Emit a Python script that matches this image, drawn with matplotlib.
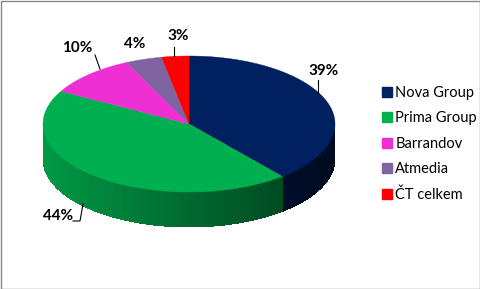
import numpy as np
import matplotlib.pyplot as plt
from matplotlib.patches import Polygon, Rectangle
from matplotlib.lines import Line2D

# data
groups = ['Nova Group', 'Prima Group', 'Barrandov', 'Atmedia', 'ČT celkem']
shares = [39, 44, 10, 4, 3]
labels = ['39%', '44%', '10%', '4%', '3%']
colors = ['#002060', '#00B050', '#EE2FD2', '#8064A2', '#FF0000']

# pie geometry in pixel space
cx, cy, rx, ry, depth = 189, 124, 146, 68, 35

# label centres (layout)
label_pos = [(324, 71), (58, 216), (77, 48), (135, 44), (178, 36)]

plt.rcParams['font.family'] = ['Lato', 'DejaVu Sans']

fig = plt.figure(figsize=(4.81, 2.89), dpi=100)
ax = fig.add_axes([0, 0, 1, 1])
ax.set_xlim(0, 481)
ax.set_ylim(289, 0)
ax.axis('off')

def pt(theta, dy=0.0):
    return cx + rx * np.cos(theta), cy - ry * np.sin(theta) + dy

fracs = np.array(shares, dtype=float) / sum(shares)
ends = np.pi / 2 - 2 * np.pi * np.cumsum(fracs)
starts = np.concatenate([[np.pi / 2], ends[:-1]])

def shade(c, theta):
    r, g, b = plt.matplotlib.colors.to_rgb(c)
    f = 0.6 + 0.27 * (-np.cos(theta))
    return (r * f, g * f, b * f)

# side wall (front half only), thin slabs for the gradient
for s, e, c in zip(starts, ends, colors):
    th = np.linspace(e, s, 200)
    for a0, a1 in zip(th[:-1], th[1:]):
        m = 0.5 * (a0 + a1)
        if np.sin(m) >= 0:
            continue
        x0, y0 = pt(a0)
        x1, y1 = pt(a1)
        quad = [(x0, y0), (x1, y1), (x1, y1 + depth), (x0, y0 + depth)]
        col = shade(c, m)
        ax.add_patch(Polygon(quad, closed=True, facecolor=col, edgecolor='none',
                             antialiased=False))

# top face
for s, e, c in zip(starts, ends, colors):
    th = np.linspace(s, e, 200)
    xs, ys = pt(th)
    verts = [(cx, cy)] + list(zip(xs, ys))
    ax.add_patch(Polygon(verts, closed=True, facecolor=c, edgecolor=c, lw=0.3))

# labels and leader lines
for lab, (lx, ly) in zip(labels, label_pos):
    ax.text(lx, ly, lab, ha='center', va='center', fontsize=11, fontweight='bold', color='black')

ax.plot([318, 318], [80, 93], color='black', lw=0.8)
ax.plot([73, 80, 83], [221, 221, 204], color='black', lw=0.8)
ax.plot([95, 100], [55, 69], color='black', lw=0.8)
ax.plot([174, 174], [47, 56], color='black', lw=0.8)

# legend
handles = [Line2D([], [], marker='s', ls='', markersize=7, markerfacecolor=c, markeredgecolor=c) for c in colors]
ax.legend(handles, groups, loc='upper left', bbox_to_anchor=(383 / 481, 1 - 86 / 289),
          frameon=False, fontsize=10.5, handlelength=0.5, handletextpad=0.35,
          labelspacing=0.78, borderpad=0, borderaxespad=0)

# chart border
ax.add_patch(Rectangle((0.5, 0.5), 480, 288, fill=False, edgecolor='#868686', lw=1))

fig.savefig('out.png', dpi=100)
